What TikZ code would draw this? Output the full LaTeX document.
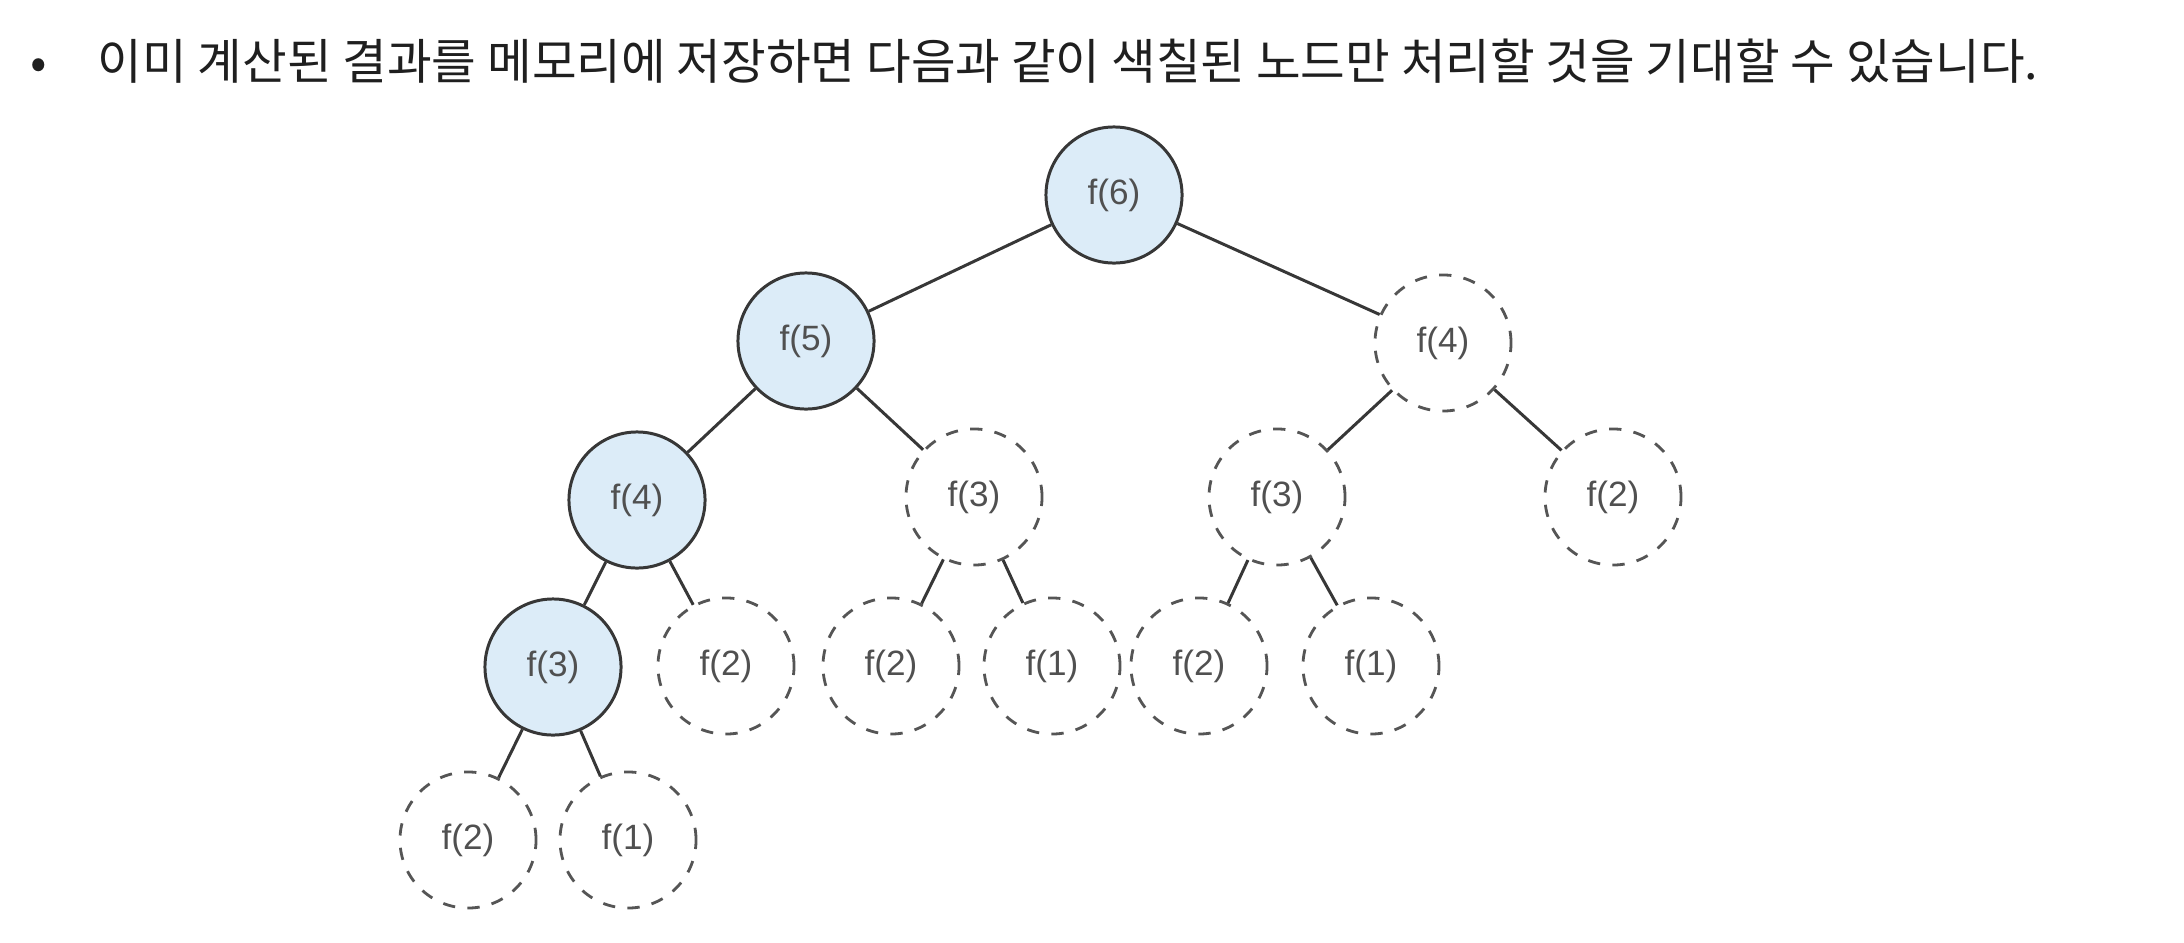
\documentclass[tikz,border=0pt]{standalone}
\usepackage{fontspec}
\setmainfont{Liberation Sans}
\newfontfamily\kofont{Noto Sans CJK KR}
\definecolor{memoBlue}{RGB}{220, 236, 248}
\definecolor{edgeGray}{RGB}{55, 55, 55}
\definecolor{labelGray}{RGB}{80, 80, 80}
\usetikzlibrary{positioning}

\begin{document}
\begin{tikzpicture}[x=0.01cm, y=-0.01cm,
    every node/.style={font=\fontsize{10}{12}\selectfont\color{labelGray}},
    memo/.style={circle, draw=edgeGray, line width=0.85pt, fill=memoBlue, minimum size=1.36cm, inner sep=0pt},
    skip/.style={circle, draw=edgeGray!85, line width=0.8pt, dash pattern=on 3.5pt off 3.5pt, minimum size=1.36cm, inner sep=0pt},
    link/.style={draw=edgeGray, line width=0.85pt}]
        \useasboundingbox (0,0) rectangle (2184,942);

        % heading line
        \node[font=\kofont\fontsize{13.8}{16}\selectfont\color{black!88}, anchor=base] (dot) at (39,79) {•};
        \node[font=\kofont\fontsize{13.8}{16}\selectfont\color{black!88}, anchor=base west, inner sep=0pt] (title) at (97,79) {이미 계산된 결과를 메모리에 저장하면 다음과 같이 색칠된 노드만 처리할 것을 기대할 수 있습니다.};

        % nodes kept in memory
        \node[memo] (f6) at (1114,195) {f(6)};
        \node[memo] (f5) at (806,341) {f(5)};
        \node[memo] (f4a) at (637,500) {f(4)};
        \node[memo] (f3a) at (553,667) {f(3)};

        % nodes that are skipped
        \node[skip] (f4b) at (1443,343) {f(4)};
        \node[skip] (f3b) at (974,497) {f(3)};
        \node[skip] (f3c) at (1277,497) {f(3)};
        \node[skip] (f2a) at (1613,497) {f(2)};
        \node[skip] (f2b) at (726,666) {f(2)};
        \node[skip] (f2c) at (891,666) {f(2)};
        \node[skip] (f1a) at (1052,666) {f(1)};
        \node[skip] (f2d) at (1199,666) {f(2)};
        \node[skip] (f1b) at (1371,666) {f(1)};
        \node[skip] (f2e) at (468,840) {f(2)};
        \node[skip] (f1c) at (628,840) {f(1)};

        \draw[link] (f6) -- (f5);
        \draw[link] (f6) -- (f4b);
        \draw[link] (f5) -- (f4a);
        \draw[link] (f5) -- (f3b);
        \draw[link] (f4b) -- (f3c);
        \draw[link] (f4b) -- (f2a);
        \draw[link] (f4a) -- (f3a);
        \draw[link] (f4a) -- (f2b);
        \draw[link] (f3b) -- (f2c);
        \draw[link] (f3b) -- (f1a);
        \draw[link] (f3c) -- (f2d);
        \draw[link] (f3c) -- (f1b);
        \draw[link] (f3a) -- (f2e);
        \draw[link] (f3a) -- (f1c);
\end{tikzpicture}
\end{document}
